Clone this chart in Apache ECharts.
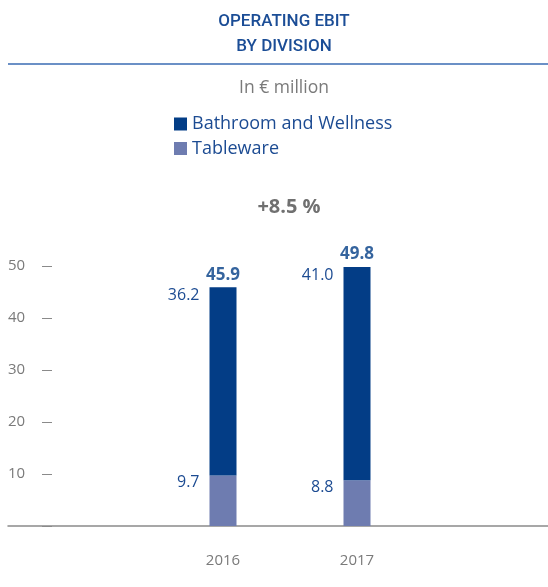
<!DOCTYPE html>
<html><head><meta charset="utf-8">
<script src="https://cdn.jsdelivr.net/npm/echarts@6/dist/echarts.min.js"></script>
<style>html,body{margin:0;padding:0;background:#fff}#c{width:548px;height:587px}</style>
</head><body><div id="c"></div>
<script>
const years = ['2016', '2017'];
const tableware = [9.7, 8.8];
const bathroom = [36.2, 41.0];
const totals = [45.9, 49.8];
const yTicks = [0, 10, 20, 30, 40, 50];
const seriesNames = ['Bathroom and Wellness', 'Tableware'];
const growthText = '+8.5 %';

const FONT = '"Open Sans", Roboto, "Liberation Sans", sans-serif';
const DARK = '#033d86';
const LIGHT = '#6e7cb0';
const LBL = '#1c4b92';
const GRAY = '#7a7a7a';

const chart = echarts.init(document.getElementById('c'), null, {renderer: 'canvas'});
const gTop = 266, gBottom = 61;
chart.setOption({
  animation: false,
  textStyle: {fontFamily: FONT},
  grid: [
    {left: 156, right: 124, top: gTop, bottom: gBottom},
    {left: 8, right: 0, top: gTop, bottom: gBottom},
    {left: 42, width: 10, top: gTop, bottom: gBottom}
  ],
  legend: {
    orient: 'vertical', left: 174, top: 115, padding: 0,
    itemWidth: 13, itemHeight: 13, itemGap: 6.5,
    icon: 'rect',
    data: seriesNames,
    textStyle: {color: LBL, fontSize: 18, fontFamily: FONT, lineHeight: 18}
  },
  xAxis: [
    {gridIndex: 0, type: 'category', data: years,
     axisLine: {show: false}, axisTick: {show: false},
     axisLabel: {color: GRAY, fontSize: 15, margin: 27, fontFamily: FONT}},
    {gridIndex: 1, type: 'category', data: [''],
     axisLine: {show: true, lineStyle: {color: '#8a8a8a', width: 1.5}},
     axisTick: {show: false}, axisLabel: {show: false}},
    {gridIndex: 2, type: 'category', data: [''], show: false}
  ],
  yAxis: [
    {gridIndex: 0, type: 'value', min: yTicks[0], max: yTicks[yTicks.length-1], interval: 10, show: false},
    {gridIndex: 1, type: 'value', min: yTicks[0], max: yTicks[yTicks.length-1], interval: 10,
     axisLine: {show: false}, axisTick: {show: false}, splitLine: {show: false},
     axisLabel: {inside: true, margin: 0, color: GRAY, fontSize: 15, fontFamily: FONT,
       formatter: v => v === 0 ? '' : String(v)}},
    {gridIndex: 2, type: 'value', min: yTicks[0], max: yTicks[yTicks.length-1], interval: 10,
     axisLine: {show: false}, axisTick: {show: false}, axisLabel: {show: false},
     splitLine: {show: true, lineStyle: {color: '#8a8a8a', width: 1}}}
  ],
  series: [
    {name: seriesNames[1], type: 'bar', stack: 'ebit', data: tableware, barWidth: 27,
     itemStyle: {color: LIGHT},
     label: {show: true, position: [-10, 7], align: 'right', verticalAlign: 'middle',
       color: LBL, fontSize: 16, fontFamily: FONT, formatter: p => p.value.toFixed(1)}},
    {name: seriesNames[0], type: 'bar', stack: 'ebit', data: bathroom, barWidth: 27,
     itemStyle: {color: DARK},
     label: {show: true, position: [-10, 8], align: 'right', verticalAlign: 'middle',
       color: LBL, fontSize: 16, fontFamily: FONT, formatter: p => p.value.toFixed(1)}},
    {name: 'total', type: 'scatter', data: totals, symbolSize: 0, silent: true,
     label: {show: true, position: 'top', distance: 4, color: DARK, fontWeight: 'bold',
       fontSize: 17, fontFamily: FONT, formatter: p => p.value.toFixed(1)}}
  ],
  graphic: [
    {type: 'text', x: 284, y: 22, style: {text: 'OPERATING EBIT', align: 'center', verticalAlign: 'middle',
      fill: '#1b4d96', font: '500 17px Roboto, sans-serif'}},
    {type: 'text', x: 284, y: 47, style: {text: 'BY DIVISION', align: 'center', verticalAlign: 'middle',
      fill: '#1b4d96', font: '500 17px Roboto, sans-serif'}},
    {type: 'line', shape: {x1: 8, y1: 64, x2: 548, y2: 64}, style: {stroke: '#3a6bb3', lineWidth: 1.5}},
    {type: 'text', x: 284, y: 88, style: {text: 'In € million', align: 'center', verticalAlign: 'middle',
      fill: GRAY, font: '17.5px ' + FONT}},
    {type: 'text', x: 289, y: 207, style: {text: growthText, align: 'center', verticalAlign: 'middle',
      fill: '#707070', font: 'bold 20px ' + FONT}}
  ]
});
</script></body></html>
